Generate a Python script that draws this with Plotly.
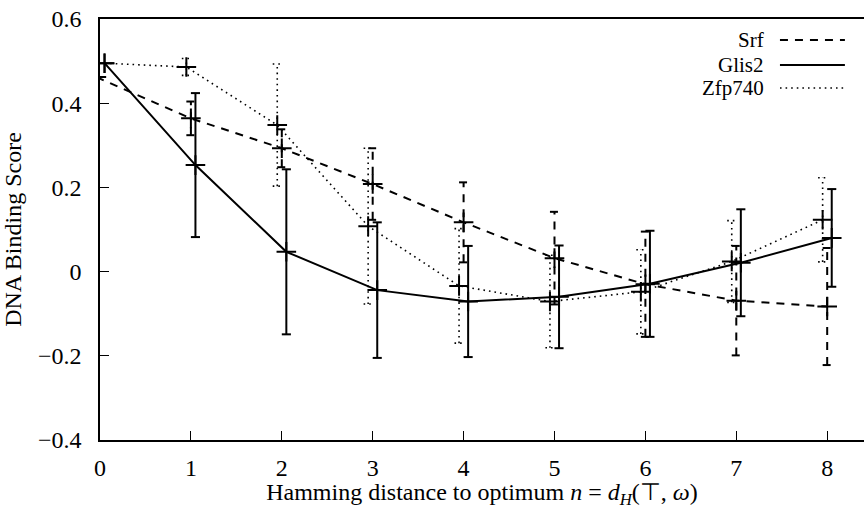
import plotly.graph_objects as go

# ---- data ----
n = [0, 1, 2, 3, 4, 5, 6, 7, 8]

srf_x = [-0.04, 1, 2, 3, 4, 5, 6, 7, 8]
srf = [0.462, 0.364, 0.293, 0.208, 0.117, 0.032, -0.030, -0.069, -0.083]
srf_err = [0.0, 0.040, 0.045, 0.085, 0.095, 0.110, 0.125, 0.130, 0.139]

glis2_x = [0.05, 1.05, 2.05, 3.05, 4.05, 5.05, 6.05, 7.05, 8.05]
glis2 = [0.495, 0.253, 0.047, -0.044, -0.071, -0.060, -0.029, 0.021, 0.080]
glis2_err = [0.0, 0.171, 0.196, 0.161, 0.132, 0.122, 0.126, 0.127, 0.116]

zfp_x = [0.05, 0.95, 1.95, 2.95, 3.95, 4.95, 5.95, 6.95, 7.95]
zfp740 = [0.495, 0.486, 0.348, 0.108, -0.034, -0.071, -0.048, 0.024, 0.123]
zfp_err = [0.0, 0.020, 0.145, 0.185, 0.136, 0.110, 0.100, 0.097, 0.100]

series = [
    ("Srf", srf_x, srf, srf_err, dict(color="black", width=2, dash="8px,7px")),
    ("Glis2", glis2_x, glis2, glis2_err, dict(color="black", width=2)),
    ("Zfp740", zfp_x, zfp740, zfp_err, dict(color="black", width=1.6, dash="1.6px,4px")),
]

FONT = "Liberation Serif, 'Times New Roman', serif"
FS = 24
LEG_FS = 21
CAP = 0.05

fig = go.Figure()
for name, xs, ys, es, line in series:
    ex, ey = [], []
    for x, y, e in zip(xs, ys, es):
        if e <= 0:
            continue
        ex += [x, x, None, x - CAP, x + CAP, None, x - CAP, x + CAP, None]
        ey += [y - e, y + e, None, y - e, y - e, None, y + e, y + e, None]
    fig.add_trace(go.Scatter(x=ex, y=ey, mode="lines", line=line,
                             showlegend=False, hoverinfo="skip"))
    fig.add_trace(go.Scatter(x=xs, y=ys, mode="lines+markers", name=name, line=line,
                             marker=dict(symbol="cross-thin", size=14,
                                         line=dict(color="black", width=2)),
                             showlegend=False))

# manual legend (text left of sample, gnuplot style)
leg_y = [0.950, 0.891, 0.836]
for (name, xs, ys, es, line), yy in zip(series, leg_y):
    fig.add_annotation(xref="paper", yref="paper", x=0.872, y=yy, text=name,
                       showarrow=False, xanchor="right", yanchor="middle",
                       font=dict(family=FONT, size=LEG_FS, color="black"))
    fig.add_shape(type="line", xref="paper", yref="paper", x0=0.890, x1=0.975,
                  y0=yy, y1=yy, line=line)

fig.update_layout(
    width=864, height=509,
    margin=dict(l=100, r=0, t=19, b=69),
    paper_bgcolor="white", plot_bgcolor="white",
    font=dict(family=FONT, size=FS, color="black"),
    showlegend=False,
)
fig.update_xaxes(range=[0, 8.405], dtick=1, tick0=0, showgrid=False, zeroline=False,
                 showline=True, linecolor="black", linewidth=1.5, mirror=True,
                 ticks="inside", ticklen=9, tickwidth=1, tickcolor="black",
                 ticklabelstandoff=5, tickfont=dict(family=FONT, size=FS),
                 title=dict(text="Hamming distance to optimum <i>n</i> = <i>d</i><sub><i>H</i></sub>(⊤, <i>ω</i>)",
                            standoff=3, font=dict(family=FONT, size=FS)))
fig.update_yaxes(range=[-0.4, 0.6], dtick=0.2, tick0=0, showgrid=False, zeroline=False,
                 showline=True, linecolor="black", linewidth=1.5, mirror=False,
                 ticks="inside", ticklen=9, tickwidth=1, tickcolor="black",
                 ticklabelstandoff=12, tickfont=dict(family=FONT, size=FS),
                 title=dict(text="DNA Binding Score", standoff=14, font=dict(family=FONT, size=FS)))

fig.write_html("out.html")
